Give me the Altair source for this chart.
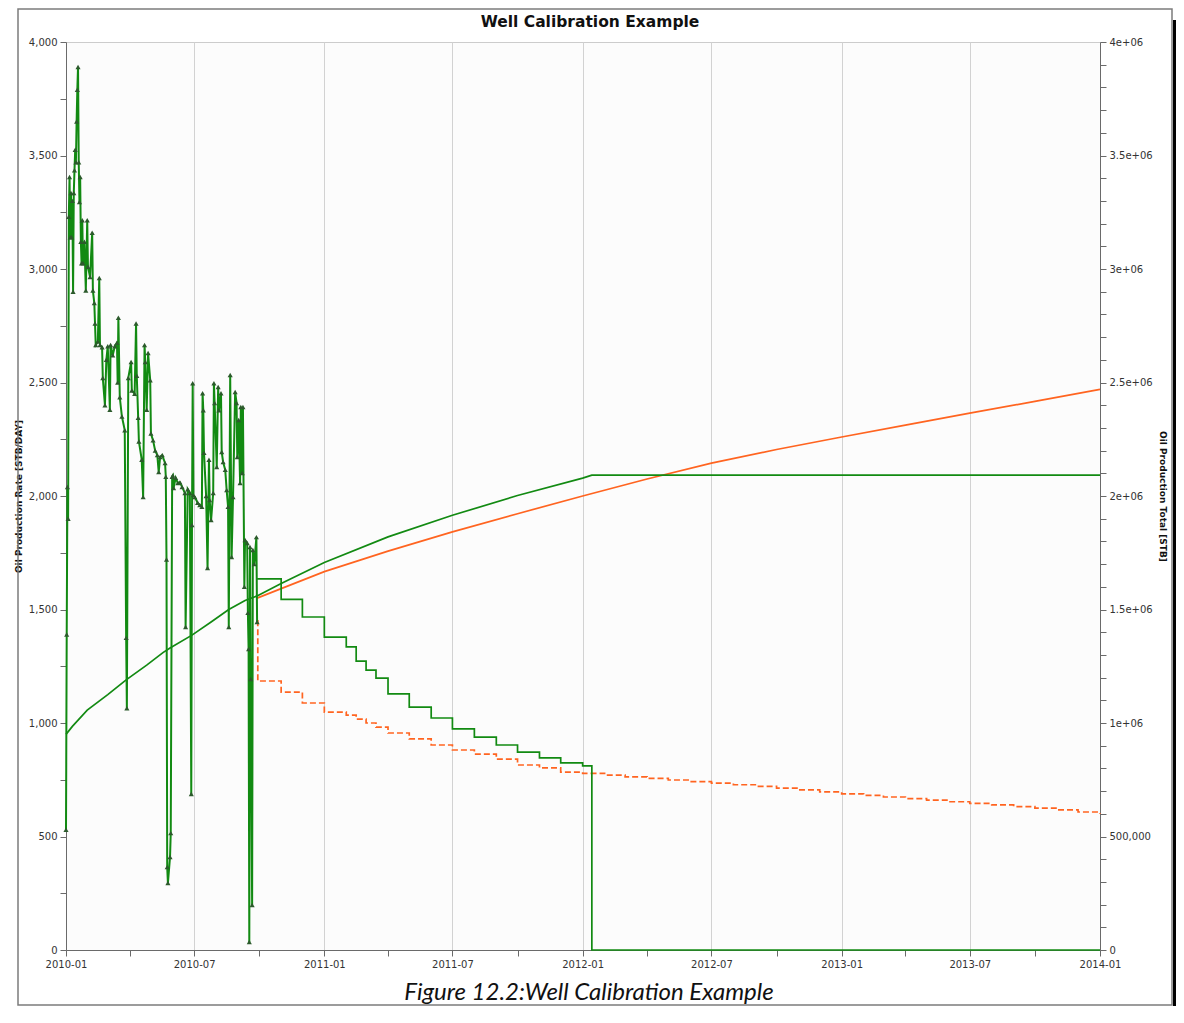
import altair as alt
import pandas as pd

# ---------------- data ----------------
# observed daily oil rate (day offset from 2010-01-01, STB/DAY)
obs_day = [0, 1, 2, 3, 4, 5, 6, 7, 8, 9, 10, 11, 12, 13, 14, 15, 16, 17, 18, 19, 20, 21, 22, 23, 24,
           26, 28, 30, 31, 34, 37, 38, 40, 41, 42, 45, 47, 48, 51, 52, 55, 57, 59, 62, 63, 66, 69, 72,
           73, 74, 76, 79, 83, 85, 86, 88, 92, 93, 97, 99, 100, 102, 103, 107, 109, 111, 112, 114, 116,
           119, 120, 123, 126, 129, 131, 133, 136, 140, 141, 142, 143, 144, 147, 148, 150, 151, 152, 155,
           158, 161, 164, 168, 169, 172, 175, 177, 178, 179, 180, 182, 186, 189, 192, 193, 194, 195, 198,
           200, 202, 203, 205, 208, 209, 210, 213, 215, 216, 219, 220, 222, 225, 227, 229, 230, 232, 234,
           236, 239, 241, 242, 244, 246, 247, 249, 250, 252, 253, 256, 257, 258, 259, 260, 261, 263, 264,
           266, 269, 270]
obs_rate = [530, 1390, 2040, 1900, 3230, 3405, 3140, 3335, 3140, 3300, 2900, 3335, 3435, 3525, 3470, 3650,
            3790, 3890, 3470, 3295, 3405, 3120, 3025, 3215, 3025,
            3120, 2905, 3215, 3010, 2965, 3160, 2905, 2850, 2760, 2665, 2680, 2960, 2665, 2655, 2520, 2400,
            2600, 2660, 2380, 2665, 2620, 2660, 2675,
            2500, 2785, 2435, 2350, 2290, 1375, 1065, 2520, 2590, 2465, 2450, 2760, 2530, 2345, 2240, 2160,
            1995, 2665, 2590, 2380, 2630,
            2510, 2275, 2245, 2200, 2180, 2105, 2172, 2180, 2145, 2085, 1720, 365, 295, 410, 515, 2085, 2090,
            2035, 2080,
            2057, 2060, 2040, 2013, 1423, 2030, 2013, 687, 1872, 2497, 2004, 1995, 1970, 1960, 1952, 2453,
            2378, 2190, 2000,
            1683, 2160, 1982, 1894, 2013, 2497, 2410, 2128, 2480, 2378, 2453, 2194, 2150, 2115, 2026, 1952,
            1423, 2533, 1731,
            1995, 2458, 2410, 2172, 2335, 2057, 2392, 2101, 2392, 1600, 1806, 1793, 1485, 1326, 35, 1775,
            1194, 198, 1762,
            1700, 1819, 1445]

# calibrated forecast rate (green, step)
green_step_dates = ["2010-09-28", "2010-11-01", "2010-12-01", "2011-01-01", "2011-02-01", "2011-02-15",
                    "2011-03-01", "2011-03-15", "2011-04-01", "2011-05-01", "2011-06-01", "2011-07-01",
                    "2011-08-01", "2011-09-01", "2011-10-01", "2011-11-01", "2011-12-01", "2012-01-01",
                    "2012-01-14", "2014-01-01"]
green_step_rate = [1635, 1545, 1467, 1378, 1335, 1273, 1233, 1198, 1128, 1070, 1022, 974, 938, 903, 872,
                   846, 824, 811, 0, 0]

# forecast rate (orange, dashed step)
orange_step_dates = ["2010-09-28", "2010-09-29", "2010-11-01", "2010-12-01", "2011-01-01", "2011-02-01",
                     "2011-02-15", "2011-03-01", "2011-03-15", "2011-04-01", "2011-05-01", "2011-06-01",
                     "2011-07-01", "2011-08-01", "2011-09-01", "2011-10-01", "2011-11-01", "2011-12-01",
                     "2012-01-01", "2012-02-01", "2012-03-01", "2012-04-01", "2012-05-01", "2012-06-01",
                     "2012-07-01", "2012-08-01", "2012-09-01", "2012-10-01", "2012-11-01", "2012-12-01",
                     "2013-01-01", "2013-02-01", "2013-03-01", "2013-04-01", "2013-05-01", "2013-06-01",
                     "2013-07-01", "2013-08-01", "2013-09-01", "2013-10-01", "2013-11-01", "2013-12-01",
                     "2014-01-01"]
orange_step_rate = [1450, 1185, 1136, 1088, 1048, 1035, 1017, 1000, 982, 956, 930, 903, 881, 863, 841, 815,
                    802, 784,
                    778, 770, 763, 756, 749, 742, 735, 728, 721, 713, 705, 697,
                    688, 681, 674, 667, 660, 653, 646, 639, 632, 625, 617, 608,
                    600]

# cumulative production (right axis, STB)
cum_green_dates = ["2010-01-01", "2010-01-10", "2010-01-31", "2010-03-01", "2010-03-27", "2010-04-25",
                   "2010-05-18", "2010-05-28", "2010-06-28", "2010-07-25", "2010-08-19", "2010-09-11",
                   "2010-09-28", "2010-11-01", "2011-01-01", "2011-04-01", "2011-07-01", "2011-10-01",
                   "2012-01-01", "2012-01-14", "2014-01-01"]
cum_green_vals = [950000, 985000, 1057000, 1125000, 1190000, 1255000, 1310000, 1330000, 1387000, 1445000,
                  1500000, 1540000, 1560000, 1615000, 1707000, 1820000, 1915000, 2002000, 2079000,
                  2092000, 2092000]

cum_orange_dates = ["2010-09-28", "2010-11-01", "2011-01-01", "2011-04-01", "2011-07-01", "2011-10-01",
                    "2012-01-01", "2012-04-01", "2012-07-01", "2012-10-01", "2013-01-01", "2013-04-01",
                    "2013-07-01", "2013-10-01", "2014-01-01"]
cum_orange_vals = [1550000, 1592000, 1667000, 1757000, 1842000, 1922000, 2000000, 2075000, 2145000,
                   2205000, 2260000, 2312000, 2365000, 2417000, 2470000]

title_text = "Well Calibration Example"
caption_text = "Figure 12.2:Well Calibration Example"
y_left_title = "Oil Production Rate [STB/DAY]"
y_right_title = "Oil Production Total [STB]"

# ---------------- tables ----------------
start = pd.Timestamp("2010-01-01")
obs_df = pd.DataFrame({
    "date": [(start + pd.Timedelta(days=d)).strftime("%Y-%m-%d") for d in obs_day],
    "rate": obs_rate,
})
green_df = pd.DataFrame({"date": green_step_dates, "rate": green_step_rate})
orange_df = pd.DataFrame({"date": orange_step_dates, "rate": orange_step_rate})
cumg_df = pd.DataFrame({"date": cum_green_dates, "cum": cum_green_vals})
cumo_df = pd.DataFrame({"date": cum_orange_dates, "cum": cum_orange_vals})

GREEN = "#128a12"
MARK = "#2c5a2c"
ORANGE = "#ff6420"

x_vals = [alt.DateTime(year=y, month=m, date=1, utc=True)
          for y in range(2010, 2014) for m in (1, 4, 7, 10)] + \
         [alt.DateTime(year=2014, month=1, date=1, utc=True)]

x_scale = alt.Scale(type="utc",
                    domain=[alt.DateTime(year=2010, month=1, date=1, utc=True),
                            alt.DateTime(year=2014, month=1, date=1, utc=True)],
                    nice=False)
x_axis = alt.Axis(
    values=x_vals,
    labelExpr="utcmonth(datum.value) % 6 === 0 ? utcFormat(datum.value, '%Y-%m') : ''",
    gridOpacity={"condition": {"test": "utcmonth(datum.value) % 6 === 0", "value": 1}, "value": 0},
    title=None, labelFlush=False, labelOverlap=False, tickSize=6, labelPadding=3,
)
X = alt.X("date:T", scale=x_scale, axis=x_axis)

y_left_scale = alt.Scale(domain=[0, 4000], nice=False)
y_left_axis = alt.Axis(
    orient="left",
    values=list(range(0, 4001, 250)),
    labelExpr="datum.value % 500 === 0 ? format(datum.value, ',') : ''",
    gridOpacity={"condition": {"test": "datum.value % 500 === 0", "value": 1}, "value": 0},
    title=y_left_title, titlePadding=5, labelFlush=False, labelOverlap=False,
    tickSize=6, labelPadding=3,
)
y_right_scale = alt.Scale(domain=[0, 4000000], nice=False)
y_right_axis = alt.Axis(
    orient="right",
    values=list(range(0, 4000001, 100000)),
    labelExpr=("datum.value === 0 ? '0' : datum.value === 500000 ? '500,000' : "
               "datum.value % 500000 === 0 ? format(datum.value / 1000000, '') + 'e+06' : ''"),
    grid=False, title=y_right_title, titlePadding=5, labelFlush=False, labelOverlap=False,
    tickSize=6, labelPadding=3,
)

# ---------------- layers ----------------
cum_green = alt.Chart(cumg_df).mark_line(color=GREEN, strokeWidth=1.7).encode(
    x=X, y=alt.Y("cum:Q", scale=y_right_scale, axis=y_right_axis))
cum_orange = alt.Chart(cumo_df).mark_line(color=ORANGE, strokeWidth=1.7).encode(
    x=X, y=alt.Y("cum:Q", scale=y_right_scale, axis=y_right_axis))
cum_layer = alt.layer(cum_orange, cum_green)

orange_step = alt.Chart(orange_df).mark_line(
    color=ORANGE, strokeWidth=1.7, strokeDash=[6, 3], interpolate="step-after").encode(
    x=X, y=alt.Y("rate:Q", scale=y_left_scale, axis=y_left_axis))
green_step = alt.Chart(green_df).mark_line(
    color=GREEN, strokeWidth=1.7, interpolate="step-after").encode(
    x=X, y=alt.Y("rate:Q", scale=y_left_scale, axis=y_left_axis))
obs_line = alt.Chart(obs_df).mark_line(color=GREEN, strokeWidth=2).encode(
    x=X, y=alt.Y("rate:Q", scale=y_left_scale, axis=y_left_axis))
obs_pts = alt.Chart(obs_df).mark_point(
    shape="triangle-up", filled=True, size=26, color=MARK, opacity=1).encode(
    x=X, y=alt.Y("rate:Q", scale=y_left_scale, axis=y_left_axis))
rate_layer = alt.layer(orange_step, green_step, obs_line, obs_pts)

one = pd.DataFrame({"k": [0]})
frame = alt.Chart(one).mark_rect(fill="transparent", stroke="#7c7c7c", strokeWidth=1.5).encode(
    x=alt.value(-48), x2=alt.value(1106), y=alt.value(-33), y2=alt.value(963))
shadow_r = alt.Chart(one).mark_rect(color="black").encode(
    x=alt.value(1107), x2=alt.value(1130), y=alt.value(-22), y2=alt.value(980))
shadow_b = alt.Chart(one).mark_rect(color="black").encode(
    x=alt.value(-46), x2=alt.value(1130), y=alt.value(964), y2=alt.value(980))
title_mark = alt.Chart(one).mark_text(
    text=title_text, font="DejaVu Sans", fontWeight="bold", fontSize=15.5,
    align="center", baseline="middle", color="#111").encode(
    x=alt.value(524), y=alt.value(-20))
caption_mark = alt.Chart(one).mark_text(
    text=caption_text, font="Lato", fontStyle="italic", fontSize=24,
    align="center", baseline="middle", color="#111").encode(
    x=alt.value(523), y=alt.value(951))
deco = alt.layer(frame, shadow_r, shadow_b, title_mark, caption_mark)

chart = alt.layer(deco, cum_layer, rate_layer).resolve_scale(y="independent").properties(
    width=1034, height=908,
    autosize=alt.AutoSizeParams(type="none"),
    padding={"left": 58, "top": 34, "right": 76, "bottom": 56},
).configure_axis(
    labelFont="DejaVu Sans", labelFontSize=10, labelColor="#333333",
    titleFont="DejaVu Sans", titleFontSize=9, titleFontWeight="bold", titleColor="#111111",
    domainColor="#6a6a6a", tickColor="#6a6a6a", gridColor="#d2d2d2", gridWidth=1,
).configure_view(stroke="#cccccc", fill="#fcfcfc")

chart.save("out.html", embed_options={"renderer": "svg", "actions": False})
